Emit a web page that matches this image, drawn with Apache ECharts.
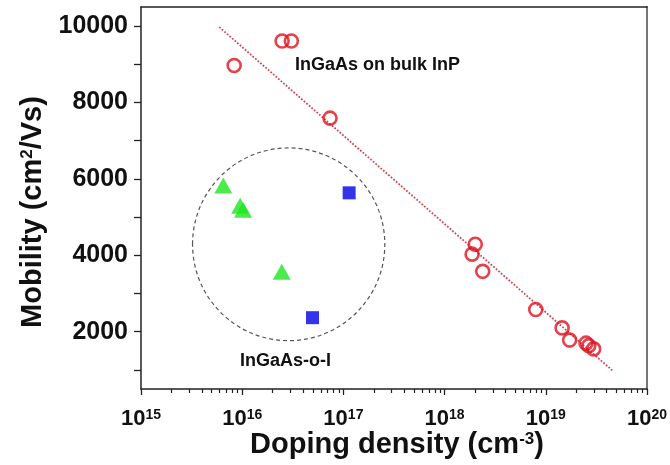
<!DOCTYPE html>
<html>
<head>
<meta charset="utf-8">
<script src="https://cdn.jsdelivr.net/npm/echarts@6/dist/echarts.min.js"></script>
<style>html,body{margin:0;padding:0;background:#fff}#c{width:670px;height:465px}</style>
</head>
<body>
<div id="c"></div>
<script>
// ---- data ----
const xDecades = [1e15, 1e16, 1e17, 1e18, 1e19, 1e20];
const xMinorMultipliers = [2, 3, 4, 5, 6, 7, 8, 9];
const yTickLabels = [2000, 4000, 6000, 8000, 10000];
const yTicks = [1000, 2000, 3000, 4000, 5000, 6000, 7000, 8000, 9000, 10000];

const bulkX = [8.33e15, 2.48e16, 3.06e16, 7.38e16, 2.01e18, 1.87e18, 2.38e18, 7.96e18, 1.45e19, 1.72e19, 2.50e19, 2.66e19, 2.97e19];
const bulkY = [8970, 9610, 9610, 7590, 4290, 4030, 3580, 2580, 2100, 1780, 1700, 1635, 1550];

const triX = [6.5e15, 9.54e15, 1.02e16, 2.46e16];
const triY = [5830, 5295, 5190, 3570];

const sqX = [1.14e17, 4.95e16];
const sqY = [5635, 2367];

const fitX = [5.94e15, 4.56e19];
const fitY = [9974, 982];

// dashed ring: centre (x, y), x of right edge, y of top edge
const ringCenterX = 2.88e16, ringCenterY = 4288, ringEdgeX = 2.567e17, ringTopY = 6811;

// ---- build ----
const zip = (a, b) => a.map((v, i) => [v, b[i]]);
const xMinorTicks = [];
xDecades.slice(0, -1).forEach(d => xMinorMultipliers.forEach(m => xMinorTicks.push(d * m)));

const FONT = '"Liberation Sans", Arial, sans-serif';
const chart = echarts.init(document.getElementById('c'), null, {renderer: 'canvas'});

const xBase = {type: 'log', logBase: 10, min: 1e15, max: 1e20, splitLine: {show: false}, minorTick: {show: false}};

chart.setOption({
  animation: false,
  backgroundColor: '#fff',
  grid: {left: 141, right: 18, top: 7, bottom: 76, containLabel: false},
  xAxis: [
    Object.assign({}, xBase, {
      position: 'bottom',
      axisLine: {show: true, lineStyle: {color: '#222', width: 1.5}},
      axisTick: {show: true, inside: false, length: 6, lineStyle: {color: '#222', width: 1.3}, customValues: xDecades},
      axisLabel: {
        show: true, margin: 19, customValues: xDecades,
        formatter: v => '{b|10}{s|' + Math.round(Math.log10(v)) + '}',
        rich: {
          b: {fontFamily: FONT, fontWeight: 'bold', fontSize: 22, color: '#111'},
          s: {fontFamily: FONT, fontWeight: 'bold', fontSize: 14, color: '#111', verticalAlign: 'top', padding: [0, 0, 4, 0]}
        }
      }
    }),
    Object.assign({}, xBase, {
      position: 'bottom',
      axisLine: {show: false},
      axisTick: {show: true, inside: false, length: 4, lineStyle: {color: '#222', width: 1.2}, customValues: xMinorTicks},
      axisLabel: {show: false}
    }),
    Object.assign({}, xBase, {
      position: 'top',
      axisLine: {show: true, lineStyle: {color: '#222', width: 1.5}},
      axisTick: {show: false},
      axisLabel: {show: false}
    })
  ],
  yAxis: [
    {
      type: 'value', min: 500, max: 10500, position: 'left',
      splitLine: {show: false},
      axisLine: {show: true, lineStyle: {color: '#222', width: 1.5}},
      axisTick: {show: true, inside: false, length: 7, lineStyle: {color: '#222', width: 1.3}, customValues: yTicks},
      axisLabel: {show: true, margin: 13, customValues: yTickLabels, formatter: v => String(v),
                  fontFamily: FONT, fontWeight: 'bold', fontSize: 25, color: '#111'}
    },
    {
      type: 'value', min: 500, max: 10500, position: 'right',
      splitLine: {show: false},
      axisLine: {show: true, lineStyle: {color: '#777', width: 2}},
      axisTick: {show: false},
      axisLabel: {show: false}
    }
  ],
  series: [
    {
      type: 'custom', silent: true, z: 1,
      data: [[ringCenterX, ringCenterY, ringEdgeX, ringTopY]],
      renderItem: (params, api) => {
        const c = api.coord([api.value(0), api.value(1)]);
        const ex = api.coord([api.value(2), api.value(1)]);
        const ey = api.coord([api.value(0), api.value(3)]);
        return {
          type: 'ellipse',
          shape: {cx: c[0], cy: c[1], rx: ex[0] - c[0], ry: c[1] - ey[1]},
          style: {fill: 'none', stroke: '#555', lineWidth: 1.2, lineDash: [4, 3]}
        };
      }
    },
    {
      type: 'line', data: zip(fitX, fitY), symbol: 'none', z: 2, silent: true,
      lineStyle: {type: 'dotted', color: '#d23a48', width: 1.7}
    },
    {
      type: 'scatter', data: zip(bulkX, bulkY), symbol: 'circle', symbolSize: 13, z: 3,
      itemStyle: {color: 'rgba(255,255,255,0)', borderColor: '#e0121e', borderWidth: 2.6}
    },
    {
      type: 'scatter', data: zip(triX, triY), symbol: 'triangle', symbolSize: [18, 16], z: 3,
      itemStyle: {color: '#1ee61e'}
    },
    {
      type: 'scatter', data: zip(sqX, sqY), symbol: 'rect', symbolSize: 13, z: 3,
      itemStyle: {color: '#0000e6'}
    }
  ],
  graphic: [
    {type: 'text', x: 295, y: 65, silent: true,
     style: {text: 'InGaAs on bulk InP', font: 'bold 18px ' + FONT, fill: '#111', textAlign: 'left', textVerticalAlign: 'middle', align: 'left', verticalAlign: 'middle'}},
    {type: 'text', x: 240, y: 361, silent: true,
     style: {text: 'InGaAs-o-I', font: 'bold 18px ' + FONT, fill: '#111', textAlign: 'left', textVerticalAlign: 'middle', align: 'left', verticalAlign: 'middle'}},
    {type: 'text', x: 33, y: 212, rotation: Math.PI / 2, silent: true,
     style: {text: '{m|Mobility (cm}{s|2}{m|/Vs)}', textAlign: 'center', textVerticalAlign: 'middle', align: 'center', verticalAlign: 'middle',
       rich: {m: {fontFamily: FONT, fontWeight: 'bold', fontSize: 29, fill: '#111', color: '#111'},
              s: {fontFamily: FONT, fontWeight: 'bold', fontSize: 17, fill: '#111', color: '#111', verticalAlign: 'top', padding: [0, 0, 5, 0]}}}},
    {type: 'text', x: 397, y: 445, silent: true,
     style: {text: '{m|Doping density (cm}{s|-3}{m|)}', textAlign: 'center', textVerticalAlign: 'middle', align: 'center', verticalAlign: 'middle',
       rich: {m: {fontFamily: FONT, fontWeight: 'bold', fontSize: 29, fill: '#111', color: '#111'},
              s: {fontFamily: FONT, fontWeight: 'bold', fontSize: 17, fill: '#111', color: '#111', verticalAlign: 'top', padding: [0, 0, 6, 0]}}}}
  ]
});
</script>
</body>
</html>
